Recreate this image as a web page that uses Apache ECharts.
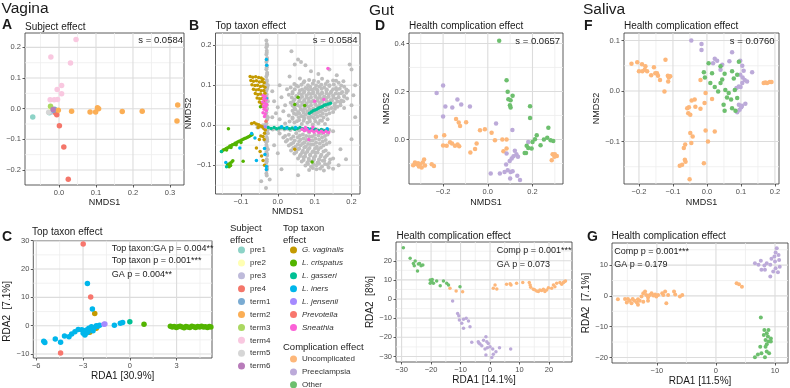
<!DOCTYPE html>
<html>
<head>
<meta charset="utf-8">
<script src="https://cdn.jsdelivr.net/npm/echarts@6/dist/echarts.min.js"></script>
<style>html,body{margin:0;padding:0;background:#fff}#main{width:790px;height:388px}</style>
</head>
<body>
<div id="main"></div>
<script>
var FONT = '"Liberation Sans", Arial, Helvetica, sans-serif';

// ---------- legend groups ----------
var subjectNames = ['pre1', 'pre2', 'pre3', 'pre4', 'term1', 'term2', 'term3', 'term4', 'term5', 'term6'];
var subjectColors = ['#8DD3C7', '#FFFFB3', '#BEBADA', '#F4766A', '#7AABD2', '#FBAE55', '#ABD862', '#F9C8E0', '#D6D6D6', '#B87CBA'];
var taxonNames = ['G. vaginalis', 'L. crispatus', 'L. gasseri', 'L. iners', 'L. jensenii', 'Prevotella', 'Sneathia'];
var taxonColors = ['#C49A00', '#53B400', '#00C094', '#00B6EB', '#A58AFF', '#F8766D', '#FB61D7'];
var compNames = ['Uncomplicated', 'Preeclampsia', 'Other'];
var compColors = ['#FDB77A', '#BCAAD9', '#6DBF6E'];

// ---------- tick values (major) and minor grid values ----------
var aXT = [0, 0.1, 0.2, 0.3], aYT = [-0.2, -0.1, 0, 0.1, 0.2];
var aXm = [-0.05, 0.05, 0.15, 0.25], aYm = [-0.15, -0.05, 0.05, 0.15];
var bXT = [-0.1, 0, 0.1, 0.2], bYT = [-0.1, 0, 0.1, 0.2];
var bXm = [-0.15, -0.05, 0.05, 0.15], bYm = [-0.15, -0.05, 0.05, 0.15];
var cXT = [-6, -3, 0, 3], cYT = [-10, 0, 10, 20, 30];
var cXm = [-4.5, -1.5, 1.5, 4.5], cYm = [-5, 5, 15, 25];
var dXT = [-0.2, 0, 0.2], dYT = [0, 0.2, 0.4];
var dXm = [-0.3, -0.1, 0.1, 0.3], dYm = [-0.1, 0.1, 0.3];
var eXT = [-30, -20, -10, 0, 10, 20], eYT = [-30, -20, -10, 0, 10, 20];
var eXm = [-25, -15, -5, 5, 15, 25], eYm = [-25, -15, -5, 5, 15, 25];
var fXT = [-0.2, -0.1, 0, 0.1, 0.2], fYT = [-0.1, 0, 0.1];
var fXm = [-0.15, -0.05, 0.05, 0.15], fYm = [-0.15, -0.05, 0.05];
var gXT = [-10, 0, 10], gYT = [-20, -10, 0, 10];
var gXm = [-15, -5, 5], gYm = [-15, -5, 5, 15];

// ---------- A: vagina NMDS, by subject ----------
var aPre1 = [[-0.071, -0.027], [-0.026, -0.013]];
var aPre2 = [[-0.022, 0.004]];
var aPre3 = [[-0.018, -0.010]];
var aPre4 = [[-0.006, -0.020], [-0.009, -0.014], [0.001, -0.056], [0.013, -0.125], [0.025, -0.230]];
var aTerm1 = [[-0.015, -0.005], [-0.012, -0.002]];
var aTerm2 = [[-0.002, -0.005], [0.034, -0.008], [0.084, -0.011], [0.099, -0.011], [0.104, 0.003], [0.107, 0.000], [0.171, -0.009], [0.225, -0.008], [0.321, 0.012], [0.319, -0.040]];
var aTerm3 = [[-0.023, 0.008]];
var aTerm4 = [[0.046, 0.226], [-0.022, 0.169], [0.031, 0.149], [0.007, 0.076], [-0.005, 0.063], [0.007, 0.049], [-0.024, 0.029], [-0.013, 0.029], [-0.004, 0.030]];
var aTerm5 = [[-0.028, -0.012]];
var aTerm6 = [[-0.016, -0.003]];

// ---------- B: vagina NMDS, by top taxon ----------
var bOther = [
  [-0.031,0.212],[-0.030,0.203],[-0.031,0.195],[-0.030,0.186],[-0.031,0.177],[-0.029,0.168],[-0.031,0.158],[-0.030,0.149],[-0.031,0.140],[-0.029,0.131],
  [-0.031,0.122],[-0.030,0.113],[-0.031,0.104],[-0.029,0.095],[-0.031,0.086],[-0.030,0.077],[-0.029,0.068],[-0.031,0.059],[-0.030,0.050],[-0.029,0.041],
  [-0.031,0.032],[-0.030,0.023],[-0.029,0.014],[-0.031,0.005],[-0.030,-0.004],[-0.029,-0.013],[-0.031,-0.022],[-0.030,-0.031],[-0.029,-0.040],[-0.031,-0.049],
  [-0.030,-0.058],[-0.031,-0.067],[-0.029,-0.076],[-0.030,-0.085],[-0.031,-0.094],[-0.029,-0.103],[-0.030,-0.112],[-0.031,-0.121],[-0.022,-0.136],[-0.032,-0.157],
  [-0.027,0.100],[-0.027,0.060],[-0.027,0.020],[-0.027,-0.020],[-0.027,-0.060],[-0.033,0.080],[-0.033,0.000],[-0.033,-0.040],
  [-0.029,0.199],[-0.030,0.181],[-0.029,0.163],[-0.030,0.145],[-0.029,0.127],[-0.030,0.109],[-0.029,0.091],[-0.030,-0.018],[-0.029,-0.036],[-0.030,-0.054],
  [-0.029,-0.072],[-0.030,-0.090],[-0.029,-0.108],[-0.030,-0.126],
  [-0.022,-0.008],[-0.014,-0.011],[-0.006,-0.009],[0.002,-0.012],[0.010,-0.008],[0.018,-0.011],[0.026,-0.009],[0.034,-0.012],[0.042,-0.008],[0.050,-0.011],
  [0.058,-0.013],[0.066,-0.009],[0.074,-0.012],[0.082,-0.014],[0.090,-0.010],[0.098,-0.013],[0.106,-0.011],[0.114,-0.015],[0.122,-0.012],[0.130,-0.014],
  [0.140,-0.012],[0.150,-0.015],[-0.045,-0.004],[-0.055,-0.006],[-0.040,0.000],
  [-0.015,0.020],[-0.005,0.030],[0.005,0.015],[0.000,0.045],[0.015,0.035],[-0.010,0.060],[0.010,0.070],[0.020,0.050],[0.025,0.090],[0.005,0.100],[-0.015,0.085],
  [0.037,0.185],[0.055,0.164],[0.063,0.158],[0.046,0.152],[0.075,0.150],[0.140,0.139],[0.200,0.139],[0.195,0.152],[0.178,0.110],[0.032,0.122],
  [0.090,0.135],[0.110,0.128],[0.160,0.125],[0.210,0.100],[0.205,0.075],[0.200,0.050],
  [0.060,0.117],[0.085,0.113],[0.120,0.116],[0.150,0.112],
  [0.072,0.110],[0.098,0.111],[0.135,0.109],[0.158,0.111],
  [0.045,0.103],[0.070,0.107],[0.095,0.104],[0.110,0.108],[0.130,0.103],[0.165,0.106],
  [0.050,0.099],[0.064,0.101],[0.082,0.100],[0.104,0.099],[0.118,0.101],[0.140,0.100],[0.152,0.102],[0.172,0.099],
  [0.035,0.094],[0.055,0.097],[0.075,0.093],[0.088,0.096],[0.100,0.092],[0.113,0.097],[0.126,0.094],[0.140,0.098],[0.158,0.093],[0.180,0.096],
  [0.046,0.090],[0.066,0.089],[0.080,0.091],[0.092,0.089],[0.106,0.090],[0.119,0.091],[0.133,0.089],[0.150,0.090],[0.168,0.091],[0.186,0.089],
  [0.040,0.083],[0.060,0.087],[0.072,0.084],[0.084,0.088],[0.096,0.083],[0.108,0.086],[0.120,0.082],[0.132,0.087],[0.145,0.084],[0.160,0.088],[0.175,0.083],[0.190,0.086],
  [0.040,0.079],[0.058,0.080],[0.071,0.081],[0.084,0.079],[0.096,0.080],[0.108,0.081],[0.120,0.079],[0.132,0.080],[0.144,0.081],[0.157,0.079],[0.172,0.080],[0.186,0.081],
  [0.030,0.076],[0.050,0.073],[0.065,0.077],[0.078,0.074],[0.090,0.078],[0.102,0.073],[0.114,0.076],[0.126,0.072],[0.138,0.077],[0.150,0.074],[0.165,0.078],[0.180,0.073],
  [0.038,0.069],[0.054,0.070],[0.066,0.071],[0.078,0.069],[0.090,0.070],[0.102,0.071],[0.114,0.069],[0.126,0.070],[0.138,0.071],[0.151,0.069],[0.165,0.070],[0.180,0.071],
  [0.045,0.064],[0.060,0.067],[0.072,0.063],[0.084,0.066],[0.096,0.062],[0.108,0.067],[0.120,0.064],[0.132,0.068],[0.144,0.063],[0.158,0.066],[0.172,0.062],[0.188,0.067],
  [0.042,0.059],[0.058,0.060],[0.072,0.061],[0.084,0.059],[0.096,0.060],[0.108,0.061],[0.120,0.059],[0.133,0.060],[0.147,0.061],[0.162,0.059],[0.178,0.060],
  [0.035,0.056],[0.052,0.053],[0.066,0.057],[0.078,0.054],[0.090,0.058],[0.102,0.053],[0.114,0.056],[0.126,0.052],[0.140,0.057],[0.155,0.054],[0.170,0.057],
  [0.040,0.049],[0.054,0.050],[0.066,0.051],[0.078,0.049],[0.090,0.050],[0.102,0.051],[0.114,0.049],[0.126,0.050],[0.139,0.051],[0.154,0.049],[0.170,0.050],
  [0.045,0.044],[0.060,0.047],[0.072,0.043],[0.084,0.046],[0.096,0.042],[0.108,0.047],[0.120,0.044],[0.132,0.047],[0.146,0.043],[0.162,0.046],[0.180,0.043],
  [0.048,0.039],[0.062,0.040],[0.074,0.041],[0.086,0.039],[0.098,0.040],[0.110,0.041],[0.123,0.039],[0.138,0.040],[0.155,0.041],
  [0.040,0.036],[0.055,0.033],[0.068,0.037],[0.080,0.034],[0.092,0.036],[0.104,0.032],[0.116,0.035],[0.130,0.037],[0.150,0.033],
  [0.044,0.029],[0.058,0.030],[0.070,0.031],[0.084,0.029],[0.096,0.030],[0.109,0.031],[0.122,0.029],[0.140,0.030],
  [0.030,0.024],[0.050,0.027],[0.064,0.023],[0.076,0.026],[0.090,0.022],[0.102,0.027],[0.116,0.024],[0.132,0.026],
  [0.040,0.019],[0.057,0.020],[0.070,0.021],[0.083,0.019],[0.096,0.020],[0.108,0.021],[0.124,0.019],
  [0.040,0.016],[0.058,0.013],[0.072,0.017],[0.086,0.014],[0.100,0.016],[0.115,0.012],[0.135,0.015],
  [0.032,0.009],[0.052,0.010],[0.070,0.011],[0.087,0.009],[0.102,0.010],[0.120,0.011],
  [0.020,0.004],[0.045,0.007],[0.065,0.003],[0.080,0.006],[0.095,0.002],[0.110,0.005],[0.128,0.003],
  [0.005,-0.021],[0.030,-0.024],[0.050,-0.020],[0.068,-0.023],[0.085,-0.019],[0.100,-0.024],[0.118,-0.021],[0.135,-0.023],
  [0.020,-0.027],[0.042,-0.028],[0.060,-0.026],[0.077,-0.027],[0.093,-0.028],[0.110,-0.026],[0.128,-0.027],
  [0.015,-0.031],[0.036,-0.034],[0.054,-0.030],[0.070,-0.033],[0.086,-0.029],[0.102,-0.034],[0.120,-0.031],
  [0.026,-0.037],[0.046,-0.038],[0.062,-0.036],[0.078,-0.037],[0.094,-0.038],[0.112,-0.036],[0.130,-0.037],
  [0.022,-0.041],[0.042,-0.044],[0.058,-0.040],[0.072,-0.043],[0.088,-0.039],[0.104,-0.044],[0.122,-0.041],[0.140,-0.043],
  [0.036,-0.047],[0.054,-0.048],[0.068,-0.046],[0.082,-0.047],[0.097,-0.048],[0.114,-0.046],[0.132,-0.047],
  [0.030,-0.051],[0.048,-0.054],[0.062,-0.050],[0.076,-0.053],[0.090,-0.049],[0.106,-0.054],[0.124,-0.051],
  [0.042,-0.057],[0.058,-0.058],[0.072,-0.056],[0.086,-0.057],[0.101,-0.058],[0.117,-0.056],
  [0.036,-0.063],[0.055,-0.060],[0.068,-0.064],[0.082,-0.061],[0.096,-0.065],[0.110,-0.060],[0.130,-0.063],
  [0.050,-0.067],[0.066,-0.068],[0.080,-0.066],[0.094,-0.067],[0.108,-0.068],[0.124,-0.066],
  [0.045,-0.071],[0.062,-0.074],[0.075,-0.070],[0.088,-0.073],[0.102,-0.069],[0.118,-0.074],[0.138,-0.071],
  [0.060,-0.077],[0.074,-0.078],[0.088,-0.076],[0.102,-0.077],[0.116,-0.078],[0.133,-0.076],
  [0.055,-0.083],[0.070,-0.080],[0.084,-0.084],[0.098,-0.081],[0.112,-0.085],[0.128,-0.080],[0.150,-0.083],
  [0.070,-0.087],[0.084,-0.088],[0.098,-0.086],[0.112,-0.087],[0.126,-0.088],[0.142,-0.086],
  [0.065,-0.091],[0.080,-0.094],[0.094,-0.090],[0.108,-0.093],[0.122,-0.089],[0.140,-0.094],
  [0.082,-0.097],[0.097,-0.098],[0.112,-0.096],[0.128,-0.097],
  [0.075,-0.101],[0.090,-0.104],[0.105,-0.100],[0.120,-0.103],[0.135,-0.099],
  [0.095,-0.107],[0.115,-0.108],[0.138,-0.106],
  [0.085,-0.112],[0.105,-0.110],[0.125,-0.113],[0.150,-0.109],
  [0.170,-0.060],[0.185,-0.085],[0.200,-0.035],[0.165,-0.100],[0.055,-0.125],[0.010,-0.110],[0.000,-0.070],[-0.010,-0.050],[0.210,0.020],[-0.045,-0.140]
];
var bGva = [
  [-0.075,0.122],[-0.068,0.120],[-0.060,0.121],[-0.052,0.119],[-0.045,0.118],[-0.040,0.115],[-0.073,0.112],[-0.066,0.110],[-0.058,0.111],[-0.050,0.108],
  [-0.043,0.109],[-0.037,0.106],[-0.070,0.101],[-0.062,0.099],[-0.055,0.100],[-0.047,0.097],[-0.040,0.098],[-0.035,0.095],[-0.066,0.090],[-0.059,0.088],
  [-0.052,0.089],[-0.045,0.086],[-0.038,0.087],[-0.061,0.079],[-0.054,0.077],[-0.047,0.078],[-0.040,0.075],[-0.035,0.080],[-0.056,0.068],[-0.049,0.066],
  [-0.042,0.067],[-0.036,0.064],[-0.050,0.058],[-0.044,0.055],[-0.038,0.057],[-0.043,0.048],[-0.037,0.045],
  [-0.071,0.004],[-0.064,0.006],[-0.058,0.003],[-0.052,0.001],[-0.047,-0.002],[-0.042,-0.004],[-0.038,-0.008],[-0.034,-0.012],[-0.036,-0.020],[-0.040,-0.028],
  [-0.037,-0.036],[-0.053,-0.006],[-0.046,-0.027],[-0.058,-0.057],[-0.044,-0.077],[-0.050,-0.036],[-0.048,-0.066],[-0.040,-0.088],[-0.036,-0.100],[0.046,-0.060]
];
var bLcr = [
  [-0.152,-0.066],[-0.148,-0.062],[-0.144,-0.061],[-0.140,-0.058],[-0.137,-0.057],[-0.133,-0.055],[-0.130,-0.052],[-0.126,-0.051],[-0.123,-0.049],[-0.119,-0.048],
  [-0.116,-0.045],[-0.112,-0.044],[-0.109,-0.042],[-0.105,-0.040],[-0.101,-0.039],[-0.098,-0.037],[-0.094,-0.035],[-0.090,-0.033],[-0.086,-0.032],[-0.082,-0.030],
  [-0.078,-0.028],[-0.074,-0.026],[-0.070,-0.024],[-0.139,-0.062],[-0.127,-0.056],[-0.113,-0.049],[-0.100,-0.043],
  [-0.136,-0.098],[-0.130,-0.095],[-0.125,-0.092],[-0.132,-0.104],[-0.128,-0.101],[-0.122,-0.089],
  [-0.134,-0.009],[-0.094,-0.090],[-0.047,0.046],[0.046,0.052],[0.093,-0.092],[0.055,0.070],[0.073,0.049]
];
var bLga = [
  [-0.026,-0.006],[-0.018,-0.008],[-0.010,-0.006],[-0.003,-0.009],[0.004,-0.007],[0.011,-0.005],[0.018,-0.008],[0.025,-0.006],[0.032,-0.009],[0.039,-0.007],
  [0.046,-0.010],[0.053,-0.008],[0.060,-0.006],[0.067,-0.009],[0.074,-0.011],[0.081,-0.008],[0.088,-0.010],[0.095,-0.012],[0.102,-0.010],[0.110,-0.013],
  [0.118,-0.011],[0.126,-0.014],[0.134,-0.012],
  [0.086,0.030],[0.091,0.033],[0.096,0.036],[0.101,0.038],[0.106,0.040],[0.111,0.043],[0.116,0.045],[0.121,0.047],[0.126,0.050],[0.131,0.051],[0.137,0.053],[0.143,0.055],
  [-0.139,-0.104],[-0.153,-0.066]
];
var bLin = [
  [-0.031,0.164],[-0.030,0.150],[-0.031,0.067],[-0.071,-0.021],[-0.103,-0.057],[-0.031,-0.111],[-0.035,-0.073],[-0.036,-0.058],[-0.141,-0.093],[0.024,-0.007],
  [0.048,-0.006],[0.134,-0.009],[-0.062,-0.032],[-0.058,-0.088],[0.084,-0.011],[0.010,-0.004],[-0.031,-0.103]
];
var bLje = [[-0.034,-0.004]];
var bPrev = [[-0.032,0.010]];
var bSne = [
  [-0.040,0.074],[-0.034,0.072],[-0.038,0.066],[-0.032,0.063],[-0.041,0.058],[-0.035,0.055],[-0.039,0.048],[-0.033,0.046],[-0.037,0.040],[-0.031,0.037],
  [-0.040,0.031],[-0.034,0.028],[-0.036,0.022],[-0.030,0.052],
  [0.066,-0.010],[0.072,-0.014],[0.079,-0.011],[0.085,-0.016],[0.092,-0.013],[0.098,-0.017],[0.105,-0.014],[0.111,-0.018],[0.118,-0.015],[0.124,-0.019],
  [0.131,-0.016],[0.138,-0.018],[0.075,-0.006],[0.095,-0.005],
  [0.136,0.142],[0.100,0.060],[0.084,-0.036],[0.125,0.064]
];

// ---------- C: vagina RDA, by top taxon ----------
var cGva = [[-2.25,4.35],[-2.57,-2.35],[-2.15,-0.9]];
var cLcr = [[0.91,0.5],[2.6,-0.2],[2.72,-0.5],[2.85,-0.3],[2.98,-0.6],[3.1,-0.4],[3.22,-0.2],[3.35,-0.5],[3.48,-0.7],[3.6,-0.3],[3.72,-0.5],[3.85,-0.6],
  [3.98,-0.2],[4.1,-0.4],[4.22,-0.6],[4.35,-0.3],[4.48,-0.5],[4.6,-0.2],[4.72,-0.5],[4.85,-0.4],[4.98,-0.6],[5.1,-0.3],[5.2,-0.5]];
var cLga = [[0.0,1.4]];
var cLin = [[-2.72,14.9],[-2.4,5.9],[-5.52,-5.5],[-5.45,-5.9],[-4.78,-4.7],[-4.44,-5.8],[-4.19,-3.6],[-3.9,-3.9],[-3.73,-2.9],[-3.52,-2.1],[-3.31,-1.3],
  [-2.99,-2.7],[-2.88,-3.3],[-2.78,-1.5],[-2.63,-0.9],[-2.46,-0.4],[-2.29,-0.7],[-2.15,0.0],[-1.94,0.2],[-0.99,0.2],[-0.61,0.9],[-0.46,1.1],
  [-2.78,-2.6],[-2.92,-1.9],[-3.08,-1.4],[-2.68,-2.2],[-2.36,-1.8],[-2.05,-0.2]];
var cLje = [[-1.66,0.5],[-1.6,0.6]];
var cPrev = [[-2.99,28.8],[-2.51,10.1],[-4.44,-9.6]];

// ---------- D: gut NMDS ----------
var dUnc = [[-0.326,-0.096],[-0.318,-0.103],[-0.312,-0.099],[-0.304,-0.103],[-0.296,-0.117],[-0.291,-0.096],[-0.285,-0.083],[-0.281,-0.108],[-0.334,-0.107],
  [-0.308,-0.112],[-0.251,-0.103],[-0.241,-0.110],[-0.232,0.011],[-0.195,0.018],[-0.200,-0.025],[-0.184,-0.026],[-0.169,-0.011],[-0.160,-0.017],[-0.147,-0.026],
  [-0.135,-0.021],[-0.128,-0.028],[-0.142,0.085],[-0.130,0.071],[-0.124,0.056],[-0.097,0.072],[-0.078,-0.054],[-0.057,-0.040],[-0.050,-0.017],[-0.035,0.039],
  [-0.013,0.043],[0.017,0.028],[0.032,-0.003],[0.065,0.000],[0.084,0.000],[0.070,-0.049],[0.084,-0.038],[0.290,-0.061],[0.300,-0.061],[0.309,-0.069],
  [0.298,-0.072],[0.286,-0.086]];
var dPre = [[-0.229,0.194],[-0.200,0.225],[-0.190,0.138],[-0.200,0.096],[-0.159,0.133],[-0.136,0.167],[-0.119,0.146],[-0.080,0.138],[0.037,0.067],[0.110,0.040],
  [0.084,-0.058],[0.121,-0.047],[0.128,-0.061],[0.135,-0.072],[0.107,-0.079],[0.082,-0.104],[0.054,-0.142],[0.075,-0.135],[0.089,-0.128],[0.102,-0.135],
  [0.111,-0.132],[0.013,-0.142],[0.132,-0.151],[0.144,-0.169],[0.100,-0.163],[0.181,-0.010],[0.098,-0.090],[0.115,-0.070]];
var dOth = [[0.051,0.411],[0.084,0.247],[0.089,0.199],[0.092,0.168],[0.102,0.164],[0.099,0.143],[0.102,0.133],[0.111,0.182],[0.189,0.139],[0.189,0.090],
  [0.271,0.049],[0.266,0.007],[0.281,-0.003],[0.293,-0.006],[0.219,0.018],[0.211,0.001],[0.200,-0.010],[0.236,-0.024],[0.174,-0.026],[0.171,-0.056],
  [0.181,-0.035],[0.196,-0.037],[0.251,0.000],[0.165,-0.056]];

// ---------- E: gut RDA ----------
var eUnc = [[-13.6,5.6],[-11.5,4.2],[-9.3,3.8],[1.1,5.6],[1.7,7.3],[2.3,5.2],[5.6,7.7],[7.1,7.3],[6.8,8.0],[9.0,8.2],[11.1,8.7],[13.3,8.7],[13.6,7.3],
  [13.8,6.1],[14.7,5.1],[15.8,4.2],[16.9,4.7],[18.1,5.1],[19.2,4.7],[19.8,5.9],[20.9,5.6],[22.0,6.4],[22.6,8.2],[23.7,8.7],[24.9,8.7],[25.6,9.4],
  [16.4,4.0],[17.5,4.4],[18.6,4.0],[15.1,4.9],[21.5,7.3],[24.3,7.7],[25.2,9.0]];
var ePre = [[-12.7,-1.0],[-11.0,-7.5],[-10.6,-8.7],[-10.4,-11.0],[-9.6,-12.7],[-9.0,-10.6],[-8.1,-10.1],[-7.3,-11.5],[-6.8,-14.5],[-9.0,-15.3],[-6.2,-22.6],
  [-4.0,-22.3],[-3.4,-23.5],[-2.8,-24.4],[-1.4,-19.7],[-1.1,-22.3],[-0.6,-23.2],[0.0,-24.9],[-0.9,-25.4],[-1.7,-26.1],[0.9,-26.1],[-1.4,-29.3],
  [1.1,-28.9],[0.6,-30.5],[3.2,-25.4],[7.0,-26.1],[2.0,-27.5],[-3.8,-23.0],[-2.2,-21.5]];
var eOth = [[-29.4,26.8],[-27.1,21.3],[-26.0,18.6],[-25.7,17.4],[-24.3,18.3],[-23.9,18.6],[-23.4,17.4],[-22.8,17.8],[-24.6,14.6],[-25.4,19.9],[-20.3,9.9],
  [-19.8,9.1],[-19.2,8.2],[-20.3,8.2],[-18.1,9.4],[-16.9,7.0],[-15.8,9.4],[-14.7,8.2],[-14.1,7.3],[-10.2,6.4],[-19.6,10.2]];

// ---------- F: saliva NMDS ----------
var fUnc = [[-0.222,0.054],[-0.205,0.057],[-0.191,0.053],[-0.181,0.049],[-0.183,0.042],[-0.176,0.039],[-0.190,0.039],[-0.200,0.039],[-0.156,0.047],
  [-0.152,0.035],[-0.147,0.035],[-0.144,0.030],[-0.164,0.031],[-0.138,0.022],[-0.122,0.062],[-0.115,0.030],[-0.112,0.027],[-0.108,0.029],[-0.114,0.019],
  [-0.125,-0.001],[-0.045,-0.019],[-0.036,-0.017],[-0.053,-0.032],[-0.058,-0.034],[-0.034,-0.031],[-0.007,-0.024],[0.015,-0.016],[-0.019,0.022],
  [-0.004,-0.004],[-0.055,-0.044],[-0.049,-0.047],[-0.019,-0.035],[-0.004,-0.078],[0.023,-0.080],[-0.049,-0.083],[-0.042,-0.090],[-0.046,-0.103],
  [0.003,-0.100],[-0.064,-0.106],[-0.068,-0.113],[-0.065,-0.136],[-0.063,-0.140],[-0.073,-0.146],[-0.080,-0.148],[-0.051,-0.175],[-0.009,-0.143],
  [0.167,0.016],[0.177,0.016],[0.185,0.018],[0.190,0.018],[0.172,0.017]];
var fPre = [[-0.046,0.100],[-0.016,0.093],[-0.016,0.081],[0.023,0.064],[0.030,0.060],[0.018,0.055],[0.040,0.042],[0.045,0.052],[0.066,0.059],[0.074,0.077],
  [0.098,0.060],[0.104,0.050],[0.108,0.040],[0.098,0.032],[0.105,0.027],[0.111,0.022],[0.118,0.019],[0.104,0.016],[0.133,0.037],[0.094,0.009],
  [0.087,0.006],[0.099,0.008],[0.103,-0.029],[0.094,-0.027],[0.113,-0.025],[0.096,-0.037],[0.089,-0.042],[0.101,-0.032]];
var fOth = [[0.005,0.055],[-0.009,0.037],[0.015,0.035],[-0.006,0.027],[0.040,0.049],[0.052,0.034],[0.045,0.023],[0.094,0.058],[0.074,0.039],[0.089,0.032],
  [0.079,0.025],[0.010,0.016],[0.040,0.016],[0.054,0.002],[0.064,-0.004],[0.059,-0.013],[0.071,-0.017],[0.082,0.002],[0.089,-0.014],[0.049,-0.027],
  [0.052,-0.039],[0.074,-0.034],[0.084,-0.039],[0.023,0.008],[0.033,-0.001]];

// ---------- G: saliva RDA ----------
var gUnc = [[-16.6,-1.1],[-15.4,-1.0],[-15.1,-2.1],[-14.6,-1.6],[-14.3,-2.4],[-13.8,-1.6],[-13.4,-2.1],[-13.2,-1.1],[-13.2,-2.9],[-12.9,-1.6],[-12.6,-0.2],
  [-12.3,0.9],[-12.0,1.4],[-11.8,0.3],[-11.5,-0.5],[-11.2,0.3],[-10.9,0.9],[-10.6,0.1],[-10.3,0.5],[-10.1,-0.2],[-9.8,0.3],[-9.1,0.9],[-8.9,0.3],
  [-8.6,1.4],[-8.4,-2.4],[-8.1,0.3],[-7.1,1.4],[-6.9,0.5],[-6.1,-0.2],[-5.7,0.3],[-14.9,-1.0],[-14.1,-1.0],[-12.3,-1.9],[-11.5,-1.6],[3.5,4.1],[3.9,3.8],[4.4,3.0]];
var gPre = [[6.6,10.6],[7.2,10.1],[7.6,11.4],[8.2,9.9],[8.6,10.6],[9.2,10.1],[7.7,8.5],[8.3,8.5],[9.2,6.3],[9.7,7.9],[10.1,9.0],[10.5,7.7],[9.9,12.8],
  [10.1,14.1],[10.3,15.5],[10.6,13.3],[10.7,11.7],[10.0,11.2],[9.4,12.1],[10.8,9.5]];
var gOth = [[7.6,-7.0],[8.2,-11.1],[8.6,-12.1],[8.9,-11.1],[8.8,-13.2],[8.4,-14.3],[9.3,-13.8],[8.9,-14.8],[8.6,-15.7],[8.4,-16.5],[7.5,-16.5],[7.7,-18.6],
  [7.1,-19.0],[6.6,-19.9],[8.3,-19.9],[9.0,-18.6],[8.6,-18.1],[8.1,-12.7],[9.3,-14.8]];

// ---------- axis ranges ----------
var aXR = [-0.092, 0.338], aYR = [-0.249, 0.247];
var bXR = [-0.169, 0.223], bYR = [-0.172, 0.2305];
var cXR = [-6.19, 5.27], cYR = [-11.4, 30.0];
var dXR = [-0.3526, 0.3365], dYR = [-0.1854, 0.4437];
var eXR = [-31.9, 27.8], eYR = [-32.9, 29.8];
var fXR = [-0.244, 0.212], fYR = [-0.1842, 0.1149];
var gXR = [-17.6, 12.2], gYR = [-21.8, 17.2];

// ---------- helpers ----------
function fmt1(v) { if (Math.abs(v) < 1e-9) return '0.0'; return v < 0 ? '\u2212' + (-v).toFixed(1) : v.toFixed(1); }
function fmt0(v) { if (Math.abs(v) < 1e-9) return '0'; return v < 0 ? '\u2212' + Math.round(-v) : String(Math.round(v)); }

function axis(gi, pos, range, ticks, fmt, name, gap, fs, namePad) {
  return {
    type: 'value', gridIndex: gi, position: pos,
    min: range[0], max: range[1],
    axisLine: { show: false, onZero: false },
    axisTick: { show: true, length: 2.5, customValues: ticks, lineStyle: { color: '#333', width: 0.8 } },
    axisLabel: { customValues: ticks, formatter: fmt, color: '#4d4d4d', fontSize: 7.5, fontFamily: FONT, margin: 4 },
    splitLine: { show: false },
    name: name, nameLocation: 'middle', nameGap: gap, nameRotate: pos === 'left' ? 90 : 0,
    nameTextStyle: { fontSize: fs, color: '#1a1a1a', fontFamily: FONT, padding: namePad || 0 }
  };
}

// panel grid lines: one short line series per grid value, drawn on the panel's own axes
function gridLineSeries(gi, xs, ys, xr, yr, color, width) {
  var out = [];
  xs.forEach(function (v) {
    out.push({ type: 'line', xAxisIndex: gi, yAxisIndex: gi, data: [[v, yr[0]], [v, yr[1]]], symbol: 'none',
      silent: true, animation: false, z: 1, lineStyle: { color: color, width: width } });
  });
  ys.forEach(function (v) {
    out.push({ type: 'line', xAxisIndex: gi, yAxisIndex: gi, data: [[xr[0], v], [xr[1], v]], symbol: 'none',
      silent: true, animation: false, z: 1, lineStyle: { color: color, width: width } });
  });
  return out;
}

function pts(name, gi, data, color, size) {
  return { type: 'scatter', name: name, xAxisIndex: gi, yAxisIndex: gi, data: data, symbol: 'circle',
    symbolSize: size, itemStyle: { color: color, opacity: 1 }, silent: true, animation: false, z: 5 };
}

function txt(s, x, y, size, o) {
  o = o || {};
  return { type: 'text', x: x, y: y, silent: true, z: 100,
    style: { text: s, fill: o.color || '#1a1a1a', fontSize: size, fontFamily: FONT,
      fontWeight: o.bold ? 'bold' : 'normal', align: o.align || 'left', verticalAlign: 'middle' } };
}

function gridBox(l, t, w, h) {
  return { left: l, top: t, width: w, height: h, show: true, borderColor: '#333', borderWidth: 0.8,
    backgroundColor: 'transparent', containLabel: false, outerBoundsMode: 'none' };
}

// ---------- build ----------
var series = [];
var panelGrid = [
  [aXT, aYT, aXm, aYm, aXR, aYR], [bXT, bYT, bXm, bYm, bXR, bYR], [cXT, cYT, cXm, cYm, cXR, cYR],
  [dXT, dYT, dXm, dYm, dXR, dYR], [eXT, eYT, eXm, eYm, eXR, eYR], [fXT, fYT, fXm, fYm, fXR, fYR],
  [gXT, gYT, gXm, gYm, gXR, gYR]
];
panelGrid.forEach(function (g, gi) {
  series = series.concat(gridLineSeries(gi, g[2], g[3], g[4], g[5], '#ededed', 0.8));
  series = series.concat(gridLineSeries(gi, g[0], g[1], g[4], g[5], '#dcdcdc', 1.1));
});

var aSets = [aPre1, aPre2, aPre3, aPre4, aTerm1, aTerm2, aTerm3, aTerm4, aTerm5, aTerm6];
aSets.forEach(function (d, i) { series.push(pts(subjectNames[i], 0, d, subjectColors[i], 5.5)); });

series.push(pts('Other taxa', 1, bOther, '#BEBEBE', 4));
[bGva, bLcr, bLga, bLin, bLje, bPrev, bSne].forEach(function (d, i) { series.push(pts(taxonNames[i], 1, d, taxonColors[i], 3.5)); });

[cGva, cLcr, cLga, cLin, cLje, cPrev].forEach(function (d, i) {
  series.push(pts(taxonNames[i], 2, d, taxonColors[i], 5.5));
});

[[dUnc, dPre, dOth, 3, 4.5], [eUnc, ePre, eOth, 4, 3.5], [fUnc, fPre, fOth, 5, 4.5], [gUnc, gPre, gOth, 6, 4]].forEach(function (p) {
  for (var i = 0; i < 3; i++) series.push(pts(compNames[i], p[3], p[i], compColors[i], p[4]));
});

function legendAt(data, left, top, italic) {
  return { data: data, left: left, top: top, height: 140, orient: 'vertical', padding: 0,
    itemWidth: 7, itemHeight: 7, itemGap: 3.9, icon: 'circle', selectedMode: false,
    textStyle: { fontSize: 8, lineHeight: 9, color: '#333', fontFamily: FONT, fontStyle: italic ? 'italic' : 'normal' } };
}

var option = {
  animation: false,
  backgroundColor: '#fff',
  textStyle: { fontFamily: FONT },
  grid: [
    gridBox(25, 33, 159, 152),        // A
    gridBox(215.5, 33, 144.5, 161),   // B
    gridBox(33.3, 240.7, 178.7, 117.3), // C
    gridBox(409, 33, 154, 151),       // D
    gridBox(396, 242, 176, 120),      // E
    gridBox(624, 33, 155, 151),       // F
    gridBox(612, 243, 176, 120)       // G
  ],
  xAxis: [
    axis(0, 'bottom', aXR, aXT, fmt1, 'NMDS1', 13.5, 9),
    axis(1, 'bottom', bXR, bXT, fmt1, 'NMDS1', 13, 9),
    axis(2, 'bottom', cXR, cXT, fmt0, 'RDA1 [30.9%]', 13.5, 10),
    axis(3, 'bottom', dXR, dXT, fmt1, 'NMDS1', 14.5, 9),
    axis(4, 'bottom', eXR, eXT, fmt0, 'RDA1 [14.1%]', 13, 10),
    axis(5, 'bottom', fXR, fXT, fmt1, 'NMDS1', 14.5, 9),
    axis(6, 'bottom', gXR, gXT, fmt0, 'RDA1 [11.5%]', 10.5, 10)
  ],
  yAxis: [
    axis(0, 'left', aYR, aYT, fmt1, 'NMDS2', 12, 9),
    axis(1, 'left', bYR, bYT, fmt1, 'NMDS2', 15.5, 9),
    axis(2, 'left', cYR, cYT, fmt0, 'RDA2  [7.1%]', 16.5, 10, [0, 24, 0, 0]),
    axis(3, 'left', dYR, dYT, fmt1, 'NMDS2', 14, 9),
    axis(4, 'left', eYR, eYT, fmt0, 'RDA2  [8%]', 17, 10),
    axis(5, 'left', fYR, fYT, fmt1, 'NMDS2', 14, 9),
    axis(6, 'left', gYR, gYT, fmt0, 'RDA2  [7.1%]', 16.5, 10)
  ],
  legend: [
    legendAt(subjectNames, 238, 245.5, false),
    legendAt(taxonNames, 290, 245.5, true),
    legendAt(compNames, 290, 354.5, false)
  ],
  graphic: [
    txt('Vagina', 1.5, 8.5, 15.5),
    txt('Gut', 369, 10.5, 15.5),
    txt('Saliva', 583, 9.5, 15.5),
    txt('A', 2, 25, 14, { bold: true }),
    txt('B', 189, 26.5, 14, { bold: true }),
    txt('D', 375, 26, 14, { bold: true }),
    txt('F', 584, 26, 14, { bold: true }),
    txt('C', 2, 237, 14, { bold: true }),
    txt('E', 371, 237, 14, { bold: true }),
    txt('G', 587, 237.5, 14, { bold: true }),
    txt('Subject effect', 25, 27.5, 10),
    txt('Top taxon effect', 215.5, 26.5, 10),
    txt('Health complication effect', 409, 26, 10),
    txt('Health complication effect', 624, 26, 10),
    txt('Top taxon effect', 32, 232.5, 10),
    txt('Health complication effect', 396.5, 236, 10),
    txt('Health complication effect', 611.5, 236, 10),
    txt('s = 0.0584', 183, 40, 9.5, { align: 'right' }),
    txt('s = 0.0584', 357.5, 40, 9.5, { align: 'right' }),
    txt('s = 0.0657', 560, 41, 9.5, { align: 'right' }),
    txt('s = 0.0760', 774.5, 41, 9.5, { align: 'right' }),
    txt('Top taxon:GA p = 0.004**', 111.7, 248.3, 9, { color: '#222' }),
    txt('Top taxon p = 0.001***', 111.7, 261, 9, { color: '#222' }),
    txt('GA p = 0.004**', 111.7, 274.3, 9, { color: '#222' }),
    txt('Comp p = 0.001***', 496.7, 251, 9, { color: '#222' }),
    txt('GA p = 0.073', 496.7, 264.3, 9, { color: '#222' }),
    txt('Comp p = 0.001***', 614.3, 251.7, 9, { color: '#222' }),
    txt('GA p = 0.179', 614.3, 264.3, 9, { color: '#222' }),
    txt('Subject', 230, 228.5, 9.5, { color: '#222' }),
    txt('effect', 230, 240, 9.5, { color: '#222' }),
    txt('Top taxon', 283, 228.5, 9.5, { color: '#222' }),
    txt('effect', 283, 240, 9.5, { color: '#222' }),
    txt('Complication effect', 283, 347, 9.5, { color: '#222' })
  ],
  series: series
};

var chart = echarts.init(document.getElementById('main'));
chart.setOption(option);
</script>
</body>
</html>
